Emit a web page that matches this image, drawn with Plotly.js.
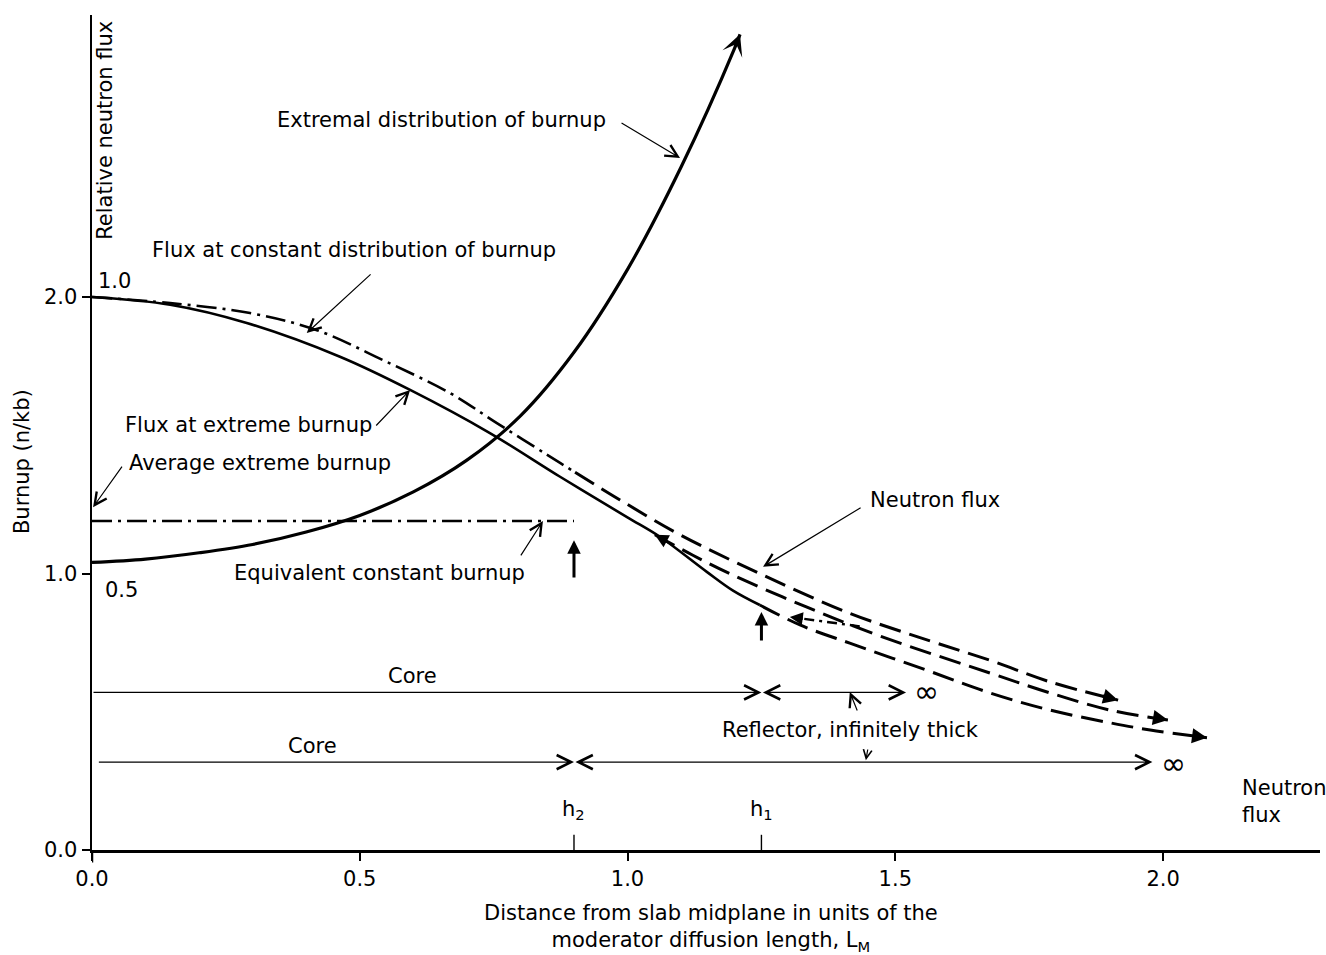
<!DOCTYPE html>
<html><head><meta charset="utf-8">
<script src="https://cdn.plot.ly/plotly-3.0.1.min.js"></script>
<style>html,body{margin:0;padding:0;background:#fff}</style>
</head><body>
<div id="chart" style="width:1326px;height:955px"></div>
<script>
// ---- Data ----
// Extremal distribution of burnup (left axis, n/kb)
const burnupX = [0, 0.1, 0.2, 0.3, 0.4, 0.5, 0.6, 0.7, 0.8, 0.9, 1.0, 1.1, 1.2, 1.21];
const burnupY = [1.04, 1.052, 1.075, 1.105, 1.15, 1.21, 1.295, 1.41, 1.57, 1.80, 2.10, 2.47, 2.90, 2.95];
// Flux at extreme burnup (relative neutron flux), core region
const fluxExtX = [0, 0.146, 0.289, 0.463, 0.594, 0.743, 0.874, 0.999, 1.061, 1.148, 1.197, 1.247];
const fluxExtY = [1.0, 0.986, 0.953, 0.892, 0.832, 0.754, 0.675, 0.602, 0.566, 0.503, 0.469, 0.443];
// Flux at constant distribution of burnup, core region
const fluxConstX = [0, 0.146, 0.295, 0.420, 0.543, 0.669, 0.756, 0.874, 0.902];
const fluxConstY = [1.0, 0.989, 0.971, 0.940, 0.886, 0.826, 0.772, 0.700, 0.683];
// Neutron flux in the reflector (three dashed curves)
const reflTopX = [0.902, 0.986, 1.098, 1.253, 1.415, 1.559, 1.677, 1.789, 1.916];
const reflTopY = [0.683, 0.633, 0.570, 0.497, 0.428, 0.380, 0.343, 0.304, 0.271];
const reflMidX = [1.051, 1.122, 1.197, 1.335, 1.477, 1.677, 1.789, 1.901, 2.009];
const reflMidY = [0.570, 0.533, 0.497, 0.439, 0.385, 0.320, 0.284, 0.253, 0.235];
const reflBotX = [1.247, 1.322, 1.415, 1.559, 1.677, 1.789, 1.901, 1.976, 2.082];
const reflBotY = [0.443, 0.407, 0.374, 0.325, 0.284, 0.253, 0.230, 0.217, 0.203];
// Equivalent constant burnup
const eqX = [0, 0.9];
const eqY = [1.19, 1.19];
// Core / reflector extents
const coreEdges = [1.25, 0.9];      // h1, h2
const reflectorEnds = [1.52, 1.98];
const rowLevels = [0.57, 0.318];
// Tick labels
const xTicks = [0, 0.5, 1.0, 1.5, 2.0];
const xTickText = ['0.0', '0.5', '1.0', '1.5', '2.0'];
const yTicks = [0, 1, 2];
const yTickText = ['0.0', '1.0', '2.0'];
const fluxTicks = [1.0, 0.5];
const fluxTickText = ['1.0', '0.5'];

// ---- Styles ----
const FONT = 'DejaVu Sans';
const FS = 21;
const BLACK = '#000';
const YMAX = 3.02;
const DASHDOT = '20px,6px,3px,6px';
const DASH = '22px,9px';

const traces = [
  {x: burnupX, y: burnupY, mode: 'lines', line: {color: BLACK, width: 3.2, shape: 'spline', smoothing: 1}, yaxis: 'y'},
  {x: fluxExtX, y: fluxExtY, mode: 'lines', line: {color: BLACK, width: 2.6, shape: 'spline'}, yaxis: 'y2'},
  {x: fluxConstX, y: fluxConstY, mode: 'lines', line: {color: BLACK, width: 2.6, dash: DASHDOT, shape: 'spline'}, yaxis: 'y2'},
  {x: reflTopX, y: reflTopY, mode: 'lines', line: {color: BLACK, width: 3, dash: DASH, shape: 'spline'}, yaxis: 'y2'},
  {x: reflMidX, y: reflMidY, mode: 'lines', line: {color: BLACK, width: 3, dash: DASH, shape: 'spline'}, yaxis: 'y2'},
  {x: reflBotX, y: reflBotY, mode: 'lines', line: {color: BLACK, width: 3, dash: DASH, shape: 'spline'}, yaxis: 'y2'},
  {x: eqX, y: eqY, mode: 'lines', line: {color: BLACK, width: 2.6, dash: DASHDOT}, yaxis: 'y'}
];

function txt(x, y, text, opts) {
  return Object.assign({x: x, y: y, xref: 'x', yref: 'y', text: text, showarrow: false,
    xanchor: 'left', yanchor: 'middle', font: {family: FONT, size: FS, color: BLACK}}, opts || {});
}
function arrow(x, y, ax, ay, opts) {
  return Object.assign({x: x, y: y, ax: ax, ay: ay, xref: 'x', yref: 'y', axref: 'x', ayref: 'y',
    text: '', showarrow: true, arrowhead: 5, arrowsize: 2, arrowwidth: 1.2, arrowcolor: BLACK,
    standoff: 0, startstandoff: 0}, opts || {});
}
// arrowhead at the end (or start) of a data series
function endHead(xs, ys, yref, opts, atStart, frac) {
  const n = xs.length;
  const f = frac || 0.25;
  const i = atStart ? 0 : n - 1, j = atStart ? 1 : n - 2;
  const tx = xs[i], ty = ys[i];
  const bx = tx + f * (xs[j] - tx), by = ty + f * (ys[j] - ty);
  return Object.assign({x: tx, y: ty, ax: bx, ay: by, xref: 'x', yref: yref, axref: 'x', ayref: yref,
    text: '', showarrow: true, arrowhead: 2, arrowsize: 1, arrowwidth: 3, arrowcolor: BLACK,
    standoff: 0, startstandoff: 0}, opts || {});
}

const annotations = [
  // curve-end arrowheads
  endHead(burnupX, burnupY, 'y', {arrowhead: 3, arrowsize: 1.1, arrowwidth: 3.2}, false, 1.0),
  endHead(reflTopX, reflTopY, 'y2'),
  endHead(reflMidX, reflMidY, 'y2'),
  endHead(reflBotX, reflBotY, 'y2'),
  endHead(reflMidX, reflMidY, 'y2', {arrowhead: 2, arrowsize: 0.9}, true),

  // labels with pointer arrows
  txt(0.342, 2.640, 'Extremal distribution of burnup'),
  arrow(1.098, 2.503, 0.986, 2.633),
  txt(0.108, 2.170, 'Flux at constant distribution of burnup'),
  arrow(0.401, 1.870, 0.523, 2.087),
  txt(0.058, 1.537, 'Flux at extreme burnup'),
  arrow(0.594, 1.664, 0.528, 1.530),
  txt(0.065, 1.400, 'Average extreme burnup'),
  arrow(0.002, 1.240, 0.058, 1.392),
  txt(0.261, 1.002, 'Equivalent constant burnup'),
  arrow(0.842, 1.190, 0.799, 1.060),
  txt(1.449, 1.266, 'Neutron flux'),
  arrow(1.253, 1.024, 1.438, 1.241),
  txt(2.144, 0.174, 'Neutron<br>flux', {align: 'left'}),

  // short dash-dot pointer arrowhead
  arrow(1.303, 0.843, 1.33, 0.836, {arrowhead: 2, arrowsize: 1, arrowwidth: 2.6}),

  // vertical marker arrows at h2 and h1
  arrow(coreEdges[1], 1.12, coreEdges[1], 0.98, {arrowhead: 2, arrowsize: 0.9, arrowwidth: 3}),
  arrow(coreEdges[0], 0.861, coreEdges[0], 0.752, {arrowhead: 2, arrowsize: 0.9, arrowwidth: 3}),

  // core / reflector bars
  arrow(coreEdges[0], rowLevels[0], 0, rowLevels[0], {arrowwidth: 1.4}),
  arrow(reflectorEnds[0], rowLevels[0], coreEdges[0], rowLevels[0], {arrowwidth: 1.4, arrowside: 'end+start'}),
  arrow(coreEdges[1], rowLevels[1], 0.01, rowLevels[1], {arrowwidth: 1.4}),
  arrow(reflectorEnds[1], rowLevels[1], coreEdges[1], rowLevels[1], {arrowwidth: 1.4, arrowside: 'end+start'}),
  txt(0.599, 0.629, 'Core', {xanchor: 'center'}),
  txt(0.411, 0.376, 'Core', {xanchor: 'center'}),
  txt(1.173, 0.434, 'Reflector, infinitely thick'),
  arrow(1.415, 0.571, 1.430, 0.499),
  arrow(1.445, 0.325, 1.449, 0.369, {arrowsize: 1.4}),
  txt(reflectorEnds[0] + 0.012, rowLevels[0] + 0.005, '∞', {font: {family: FONT, size: 30, color: BLACK}}),
  txt(reflectorEnds[1] + 0.012, rowLevels[1] - 0.005, '∞', {font: {family: FONT, size: 30, color: BLACK}}),

  // h labels
  txt(coreEdges[1], 0.145, 'h<sub>2</sub>', {xanchor: 'center'}),
  txt(coreEdges[0], 0.145, 'h<sub>1</sub>', {xanchor: 'center'}),

  // relative flux scale labels
  txt(0.007, fluxTicks[0], fluxTickText[0], {yref: 'y2', yanchor: 'bottom', yshift: 2}),
  txt(0.02, fluxTicks[1], fluxTickText[1], {yref: 'y2', yanchor: 'top', yshift: -2}),

  // axis titles
  txt(0.024, 2.604, 'Relative neutron flux', {xanchor: 'center', textangle: -90}),
  {x: -0.057, y: 1.403, xref: 'paper', yref: 'y', text: 'Burnup (n/kb)', showarrow: false, textangle: -90,
   xanchor: 'center', yanchor: 'middle', font: {family: FONT, size: FS, color: BLACK}},
  {x: 0.504, y: -0.0934, xref: 'paper', yref: 'paper', showarrow: false, align: 'center',
   xanchor: 'center', yanchor: 'middle',
   text: 'Distance from slab midplane in units of the<br>moderator diffusion length, L<sub>M</sub>',
   font: {family: FONT, size: FS, color: BLACK}}
];

const shapes = [
  // y axis extension below x axis
  {type: 'line', xref: 'x', yref: 'paper', x0: 0, x1: 0, y0: 0, y1: -0.015, line: {color: BLACK, width: 2.5}},
  // h2 and h1 tick marks
  {type: 'line', xref: 'x', yref: 'y', x0: coreEdges[1], x1: coreEdges[1], y0: 0, y1: 0.055, line: {color: BLACK, width: 1.4}},
  {type: 'line', xref: 'x', yref: 'y', x0: coreEdges[0], x1: coreEdges[0], y0: 0, y1: 0.055, line: {color: BLACK, width: 1.4}},
  // dash-dot pointer shaft
  {type: 'line', xref: 'x', yref: 'y', x0: 1.33, y0: 0.836, x1: 1.44, y1: 0.807, line: {color: BLACK, width: 2.4, dash: '10px,5px,3px,5px'}}
];

const layout = {
  width: 1326, height: 955,
  margin: {l: 92, r: 6, t: 15, b: 105, pad: 0},
  paper_bgcolor: '#fff', plot_bgcolor: '#fff',
  showlegend: false,
  font: {family: FONT, size: FS, color: BLACK},
  xaxis: {range: [0, 2.293], showgrid: false, zeroline: false, showline: true, linecolor: BLACK, linewidth: 2.5,
    ticks: 'outside', ticklen: 8, tickwidth: 2, tickcolor: BLACK, tickvals: xTicks, ticktext: xTickText,
    tickfont: {family: FONT, size: FS, color: BLACK}, fixedrange: true},
  yaxis: {range: [0, YMAX], showgrid: false, zeroline: false, showline: true, linecolor: BLACK, linewidth: 2.5,
    ticks: 'outside', ticklen: 8, tickwidth: 2, tickcolor: BLACK, tickvals: yTicks, ticktext: yTickText,
    tickfont: {family: FONT, size: FS, color: BLACK}, fixedrange: true},
  yaxis2: {range: [0, YMAX / 2], overlaying: 'y', visible: false, fixedrange: true},
  annotations: annotations,
  shapes: shapes
};

Plotly.newPlot('chart', traces, layout, {displayModeBar: false, staticPlot: true});
</script>
</body></html>
